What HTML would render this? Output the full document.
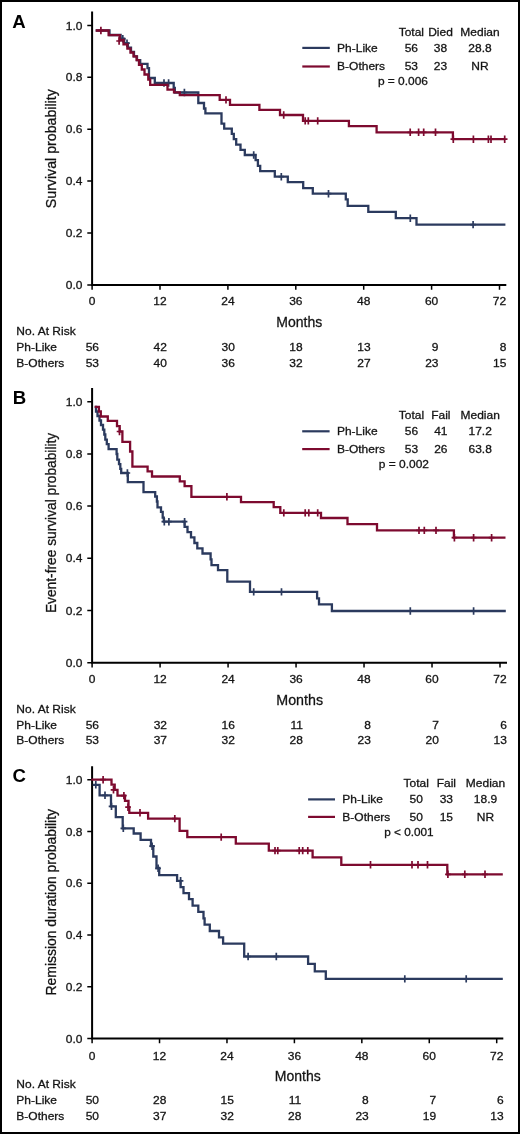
<!DOCTYPE html>
<html><head><meta charset="utf-8"><title>Kaplan-Meier curves</title>
<style>html,body{margin:0;padding:0;background:#fff;}svg{display:block;will-change:transform;}text{font-family:"Liberation Sans", sans-serif;stroke:#1a1a1a;stroke-width:0.3px;}.nb{stroke:none;}</style></head><body>
<svg width="520" height="1134" viewBox="0 0 520 1134">
<rect x="0" y="0" width="520" height="1134" fill="#000"/>
<rect x="2" y="2" width="516" height="1130" fill="#fff"/>
<g><text x="12.3" y="27.6" class="nb" font-size="18.6" font-weight="bold" fill="#000">A</text><path d="M92.1 11.5V285.9M91.1 284.9H506.3" stroke="#000" stroke-width="2" fill="none"/><path d="M87.3 284.9H92.1M87.3 233.0H92.1M87.3 181.1H92.1M87.3 129.2H92.1M87.3 77.3H92.1M87.3 25.4H92.1M92.1 284.9V289.7M160.0 284.9V289.7M227.9 284.9V289.7M295.8 284.9V289.7M363.7 284.9V289.7M431.6 284.9V289.7M499.5 284.9V289.7" stroke="#000" stroke-width="1.5" fill="none"/><text transform="translate(82.5 289.00) scale(1.0345 1)" font-size="11.6" text-anchor="end" fill="#111">0.0</text><text transform="translate(82.5 237.10) scale(1.0345 1)" font-size="11.6" text-anchor="end" fill="#111">0.2</text><text transform="translate(82.5 185.20) scale(1.0345 1)" font-size="11.6" text-anchor="end" fill="#111">0.4</text><text transform="translate(82.5 133.30) scale(1.0345 1)" font-size="11.6" text-anchor="end" fill="#111">0.6</text><text transform="translate(82.5 81.40) scale(1.0345 1)" font-size="11.6" text-anchor="end" fill="#111">0.8</text><text transform="translate(82.5 29.50) scale(1.0345 1)" font-size="11.6" text-anchor="end" fill="#111">1.0</text><text transform="translate(92.10 305.4) scale(1.0345 1)" font-size="11.6" text-anchor="middle" fill="#111">0</text><text transform="translate(160.00 305.4) scale(1.0345 1)" font-size="11.6" text-anchor="middle" fill="#111">12</text><text transform="translate(227.90 305.4) scale(1.0345 1)" font-size="11.6" text-anchor="middle" fill="#111">24</text><text transform="translate(295.80 305.4) scale(1.0345 1)" font-size="11.6" text-anchor="middle" fill="#111">36</text><text transform="translate(363.70 305.4) scale(1.0345 1)" font-size="11.6" text-anchor="middle" fill="#111">48</text><text transform="translate(431.60 305.4) scale(1.0345 1)" font-size="11.6" text-anchor="middle" fill="#111">60</text><text transform="translate(499.50 305.4) scale(1.0345 1)" font-size="11.6" text-anchor="middle" fill="#111">72</text><text x="276.29999999999995" y="326.5" font-size="15.2" textLength="46.00000000000002" lengthAdjust="spacingAndGlyphs" fill="#111">Months</text><text transform="translate(55.8 208.2) rotate(-90)" x="0" y="0" font-size="15.2" textLength="119.0" lengthAdjust="spacingAndGlyphs" fill="#111">Survival probability</text><text transform="translate(16.3 335.0) scale(1.0345 1)" font-size="11.6" fill="#111">No. At Risk</text><text transform="translate(16.3 350.8) scale(1.0345 1)" font-size="11.6" fill="#111">Ph-Like</text><text transform="translate(16.3 366.5) scale(1.0345 1)" font-size="11.6" fill="#111">B-Others</text><text transform="translate(99.00 350.8) scale(1.0345 1)" font-size="11.6" text-anchor="end" fill="#111">56</text><text transform="translate(99.00 366.5) scale(1.0345 1)" font-size="11.6" text-anchor="end" fill="#111">53</text><text transform="translate(166.90 350.8) scale(1.0345 1)" font-size="11.6" text-anchor="end" fill="#111">42</text><text transform="translate(166.90 366.5) scale(1.0345 1)" font-size="11.6" text-anchor="end" fill="#111">40</text><text transform="translate(234.80 350.8) scale(1.0345 1)" font-size="11.6" text-anchor="end" fill="#111">30</text><text transform="translate(234.80 366.5) scale(1.0345 1)" font-size="11.6" text-anchor="end" fill="#111">36</text><text transform="translate(302.70 350.8) scale(1.0345 1)" font-size="11.6" text-anchor="end" fill="#111">18</text><text transform="translate(302.70 366.5) scale(1.0345 1)" font-size="11.6" text-anchor="end" fill="#111">32</text><text transform="translate(370.60 350.8) scale(1.0345 1)" font-size="11.6" text-anchor="end" fill="#111">13</text><text transform="translate(370.60 366.5) scale(1.0345 1)" font-size="11.6" text-anchor="end" fill="#111">27</text><text transform="translate(438.50 350.8) scale(1.0345 1)" font-size="11.6" text-anchor="end" fill="#111">9</text><text transform="translate(438.50 366.5) scale(1.0345 1)" font-size="11.6" text-anchor="end" fill="#111">23</text><text transform="translate(506.40 350.8) scale(1.0345 1)" font-size="11.6" text-anchor="end" fill="#111">8</text><text transform="translate(506.40 366.5) scale(1.0345 1)" font-size="11.6" text-anchor="end" fill="#111">15</text><text transform="translate(411.3 35.5) scale(1.0345 1)" font-size="11.6" text-anchor="middle" fill="#111">Total</text><text transform="translate(440.5 35.5) scale(1.0345 1)" font-size="11.6" text-anchor="middle" fill="#111">Died</text><text transform="translate(480.0 35.5) scale(1.0345 1)" font-size="11.6" text-anchor="middle" fill="#111">Median</text><text transform="translate(411.3 52.2) scale(1.0345 1)" font-size="11.6" text-anchor="middle" fill="#111">56</text><text transform="translate(440.5 52.2) scale(1.0345 1)" font-size="11.6" text-anchor="middle" fill="#111">38</text><text transform="translate(480.0 52.2) scale(1.0345 1)" font-size="11.6" text-anchor="middle" fill="#111">28.8</text><text transform="translate(411.3 70.4) scale(1.0345 1)" font-size="11.6" text-anchor="middle" fill="#111">53</text><text transform="translate(440.5 70.4) scale(1.0345 1)" font-size="11.6" text-anchor="middle" fill="#111">23</text><text transform="translate(480.0 70.4) scale(1.0345 1)" font-size="11.6" text-anchor="middle" fill="#111">NR</text><path d="M302.3 47.9H329.8" stroke="#2b3a5e" stroke-width="2.2" fill="none"/><path d="M302.3 66.5H329.8" stroke="#7d0a2f" stroke-width="2.2" fill="none"/><text transform="translate(337.09999999999997 51.900000000000006) scale(1.0345 1)" font-size="11.6" fill="#111">Ph-Like</text><text transform="translate(337.09999999999997 70.30000000000001) scale(1.0345 1)" font-size="11.6" fill="#111">B-Others</text><text x="377.9" y="85.1" font-size="11.6" textLength="50.09999999999999" lengthAdjust="spacingAndGlyphs" fill="#111">p = 0.006</text><path d="M95.7 30.5H109.5V35H120.6V38.6H124.2V43.3H127.9V47.6H131V52H134V56.3H137V60.2H140.2V63.8H147.5V68.2H149V78H154.8V83H173.7V88H174.8V92.5H198.3V103H204V108.5H205.4V113.4H221.5V123.7H224.2V128.6H231.8V133.8H233.8V139.2H236.2V144.6H240.5V149.8H244.8V155H255.6V160.2H257.9V165.8H260.2V171.2H274.8V176.7H287.8V182.1H303.2V188.2H312.8V193.7H345.8V199.4H347.7V205.8H368.3V211.9H395.8V218.2H416.5V224.6H505.4" stroke="#2b3a5e" stroke-width="2.3" fill="none" stroke-linejoin="miter" stroke-linecap="butt"/><path d="M122.8 35.099999999999994V42.5M120.0 38.8H125.6M127 39.5V46.900000000000006M124.2 43.2H129.8M164 79.3V86.7M161.2 83H166.8M168.6 79.3V86.7M165.79999999999998 83H171.4M184.4 88.8V96.2M181.6 92.5H187.20000000000002M253.7 151.3V158.7M250.89999999999998 155H256.5M281.3 173.0V180.39999999999998M278.5 176.7H284.1M328.5 190.0V197.39999999999998M325.7 193.7H331.3M410.3 214.5V221.89999999999998M407.5 218.2H413.1M473.1 220.9V228.29999999999998M470.3 224.6H475.90000000000003" stroke="#2b3a5e" stroke-width="1.7" fill="none"/><path d="M95.7 30.5H108.6V35.1H119.7V39.8H123.5V44.4H127.4V48.6H130.5V52.5H133.5V56.3H136.6V60.2H139V64.9H141.8V69.5H144.5V74.5H148.3V79.5H150.2V84.9H167.5V89.6H174V92.3H179.8V95.2H219.7V99.9H230V104.8H259.4V109.9H280V115H303V120.9H348.9V126.2H376.6V132.3H452.9V139.2H504.7" stroke="#7d0a2f" stroke-width="2.3" fill="none" stroke-linejoin="miter" stroke-linecap="butt"/><path d="M100.9 26.8V34.2M98.10000000000001 30.5H103.7M119.1 37.3V44.7M116.3 41.0H121.89999999999999M226.0 96.2V103.60000000000001M223.2 99.9H228.8M283.7 111.3V118.7M280.9 115H286.5M305.2 117.2V124.60000000000001M302.4 120.9H308.0M308.3 117.2V124.60000000000001M305.5 120.9H311.1M317.7 117.2V124.60000000000001M314.9 120.9H320.5M410.2 128.60000000000002V136.0M407.4 132.3H413.0M418.6 128.60000000000002V136.0M415.8 132.3H421.40000000000003M423.7 128.60000000000002V136.0M420.9 132.3H426.5M435.5 128.60000000000002V136.0M432.7 132.3H438.3M453.3 135.5V142.89999999999998M450.5 139.2H456.1M473.4 135.5V142.89999999999998M470.59999999999997 139.2H476.2M488.4 135.5V142.89999999999998M485.59999999999997 139.2H491.2M491.0 135.5V142.89999999999998M488.2 139.2H493.8M504.7 135.5V142.89999999999998M501.9 139.2H507.5" stroke="#7d0a2f" stroke-width="1.7" fill="none"/></g>
<g><text x="12.8" y="404.3" class="nb" font-size="18.6" font-weight="bold" fill="#000">B</text><path d="M92.1 388.1V663.7M91.1 662.7H507.0" stroke="#000" stroke-width="2" fill="none"/><path d="M87.3 662.7H92.1M87.3 610.5H92.1M87.3 558.3H92.1M87.3 506.1H92.1M87.3 453.9H92.1M87.3 401.7H92.1M92.1 662.7V667.5M160.08 662.7V667.5M228.07 662.7V667.5M296.05 662.7V667.5M364.03 662.7V667.5M432.02 662.7V667.5M500.0 662.7V667.5" stroke="#000" stroke-width="1.5" fill="none"/><text transform="translate(82.5 666.80) scale(1.0345 1)" font-size="11.6" text-anchor="end" fill="#111">0.0</text><text transform="translate(82.5 614.60) scale(1.0345 1)" font-size="11.6" text-anchor="end" fill="#111">0.2</text><text transform="translate(82.5 562.40) scale(1.0345 1)" font-size="11.6" text-anchor="end" fill="#111">0.4</text><text transform="translate(82.5 510.20) scale(1.0345 1)" font-size="11.6" text-anchor="end" fill="#111">0.6</text><text transform="translate(82.5 458.00) scale(1.0345 1)" font-size="11.6" text-anchor="end" fill="#111">0.8</text><text transform="translate(82.5 405.80) scale(1.0345 1)" font-size="11.6" text-anchor="end" fill="#111">1.0</text><text transform="translate(92.10 683.3) scale(1.0345 1)" font-size="11.6" text-anchor="middle" fill="#111">0</text><text transform="translate(160.08 683.3) scale(1.0345 1)" font-size="11.6" text-anchor="middle" fill="#111">12</text><text transform="translate(228.07 683.3) scale(1.0345 1)" font-size="11.6" text-anchor="middle" fill="#111">24</text><text transform="translate(296.05 683.3) scale(1.0345 1)" font-size="11.6" text-anchor="middle" fill="#111">36</text><text transform="translate(364.03 683.3) scale(1.0345 1)" font-size="11.6" text-anchor="middle" fill="#111">48</text><text transform="translate(432.02 683.3) scale(1.0345 1)" font-size="11.6" text-anchor="middle" fill="#111">60</text><text transform="translate(500.00 683.3) scale(1.0345 1)" font-size="11.6" text-anchor="middle" fill="#111">72</text><text x="276.29999999999995" y="704.7" font-size="15.2" textLength="46.80000000000003" lengthAdjust="spacingAndGlyphs" fill="#111">Months</text><text transform="translate(55.8 613.1) rotate(-90)" x="0" y="0" font-size="15.2" textLength="180.3" lengthAdjust="spacingAndGlyphs" fill="#111">Event-free survival probability</text><text transform="translate(16.3 712.5) scale(1.0345 1)" font-size="11.6" fill="#111">No. At Risk</text><text transform="translate(16.3 728.5) scale(1.0345 1)" font-size="11.6" fill="#111">Ph-Like</text><text transform="translate(16.3 744.2) scale(1.0345 1)" font-size="11.6" fill="#111">B-Others</text><text transform="translate(99.00 728.5) scale(1.0345 1)" font-size="11.6" text-anchor="end" fill="#111">56</text><text transform="translate(99.00 744.2) scale(1.0345 1)" font-size="11.6" text-anchor="end" fill="#111">53</text><text transform="translate(166.98 728.5) scale(1.0345 1)" font-size="11.6" text-anchor="end" fill="#111">32</text><text transform="translate(166.98 744.2) scale(1.0345 1)" font-size="11.6" text-anchor="end" fill="#111">37</text><text transform="translate(234.97 728.5) scale(1.0345 1)" font-size="11.6" text-anchor="end" fill="#111">16</text><text transform="translate(234.97 744.2) scale(1.0345 1)" font-size="11.6" text-anchor="end" fill="#111">32</text><text transform="translate(302.95 728.5) scale(1.0345 1)" font-size="11.6" text-anchor="end" fill="#111">11</text><text transform="translate(302.95 744.2) scale(1.0345 1)" font-size="11.6" text-anchor="end" fill="#111">28</text><text transform="translate(370.93 728.5) scale(1.0345 1)" font-size="11.6" text-anchor="end" fill="#111">8</text><text transform="translate(370.93 744.2) scale(1.0345 1)" font-size="11.6" text-anchor="end" fill="#111">23</text><text transform="translate(438.92 728.5) scale(1.0345 1)" font-size="11.6" text-anchor="end" fill="#111">7</text><text transform="translate(438.92 744.2) scale(1.0345 1)" font-size="11.6" text-anchor="end" fill="#111">20</text><text transform="translate(506.90 728.5) scale(1.0345 1)" font-size="11.6" text-anchor="end" fill="#111">6</text><text transform="translate(506.90 744.2) scale(1.0345 1)" font-size="11.6" text-anchor="end" fill="#111">13</text><text transform="translate(411.4 418.5) scale(1.0345 1)" font-size="11.6" text-anchor="middle" fill="#111">Total</text><text transform="translate(440.8 418.5) scale(1.0345 1)" font-size="11.6" text-anchor="middle" fill="#111">Fail</text><text transform="translate(480.2 418.5) scale(1.0345 1)" font-size="11.6" text-anchor="middle" fill="#111">Median</text><text transform="translate(411.4 435.0) scale(1.0345 1)" font-size="11.6" text-anchor="middle" fill="#111">56</text><text transform="translate(440.8 435.0) scale(1.0345 1)" font-size="11.6" text-anchor="middle" fill="#111">41</text><text transform="translate(480.2 435.0) scale(1.0345 1)" font-size="11.6" text-anchor="middle" fill="#111">17.2</text><text transform="translate(411.4 453.4) scale(1.0345 1)" font-size="11.6" text-anchor="middle" fill="#111">53</text><text transform="translate(440.8 453.4) scale(1.0345 1)" font-size="11.6" text-anchor="middle" fill="#111">26</text><text transform="translate(480.2 453.4) scale(1.0345 1)" font-size="11.6" text-anchor="middle" fill="#111">63.8</text><path d="M302.2 431.3H329.6" stroke="#2b3a5e" stroke-width="2.2" fill="none"/><path d="M302.2 449.1H329.6" stroke="#7d0a2f" stroke-width="2.2" fill="none"/><text transform="translate(336.9 434.7) scale(1.0345 1)" font-size="11.6" fill="#111">Ph-Like</text><text transform="translate(336.9 453.29999999999995) scale(1.0345 1)" font-size="11.6" fill="#111">B-Others</text><text x="378.79999999999995" y="468.4" font-size="11.6" textLength="50.20000000000001" lengthAdjust="spacingAndGlyphs" fill="#111">p = 0.002</text><path d="M94.7 407H96V411.5H97.5V416H99.5V420.5H101V425H103V429.6H104.3V434.5H105.3V439.6H106.8V444.2H108.6V449.2H116.6V454H117.3V459.6H119V464.2H120.3V468.8H121.2V473H127.8V482.2H143.5V492.2H155.2V496.5H156.9V501.5H157.5V507.3H161V511.9H162.7V517.7H163.8V521.7H184.6V526.9H187.5V532.1H191V537.3H194.4V543H197.3V548.3H202.5V553.5H210.6V559.3H211.5V565.2H218V570.2H227.3V581.7H250V591.9H317.1V598.3H319V604.4H331.9V611H505.8" stroke="#2b3a5e" stroke-width="2.3" fill="none" stroke-linejoin="miter" stroke-linecap="butt"/><path d="M127.4 469.3V476.7M124.60000000000001 473H130.20000000000002M164.3 518.0V525.4000000000001M161.5 521.7H167.10000000000002M168.9 518.0V525.4000000000001M166.1 521.7H171.70000000000002M184.6 518.0V525.4000000000001M181.79999999999998 521.7H187.4M253.7 588.1999999999999V595.6M250.89999999999998 591.9H256.5M281.5 588.1999999999999V595.6M278.7 591.9H284.3M410.3 607.3V614.7M407.5 611H413.1M473.6 607.3V614.7M470.8 611H476.40000000000003" stroke="#2b3a5e" stroke-width="1.7" fill="none"/><path d="M94.7 406.9H98.9V411.5H100.8V416.5H107.8V420.8H117V426.2H119.7V431.5H122.4V441.8H130.1V451.5H132.4V466.7H147.6V471.3H152V476.5H179.8V481.3H184.6V486.2H191.4V496.8H241V502.2H273.7V507.1H280.3V512.9H321V518H347.5V524.1H377V530.4H453.9V537.7H505.5" stroke="#7d0a2f" stroke-width="2.3" fill="none" stroke-linejoin="miter" stroke-linecap="butt"/><path d="M119.5 427.8V435.2M116.7 431.5H122.3M226.9 493.1V500.5M224.1 496.8H229.70000000000002M283.8 509.2V516.6M281.0 512.9H286.6M305.2 509.2V516.6M302.4 512.9H308.0M308.8 509.2V516.6M306.0 512.9H311.6M317.7 509.2V516.6M314.9 512.9H320.5M419.0 526.6999999999999V534.1M416.2 530.4H421.8M424.3 526.6999999999999V534.1M421.5 530.4H427.1M436.0 526.6999999999999V534.1M433.2 530.4H438.8M454.4 534.0V541.4000000000001M451.59999999999997 537.7H457.2M473.6 534.0V541.4000000000001M470.8 537.7H476.40000000000003M491.6 534.0V541.4000000000001M488.8 537.7H494.40000000000003" stroke="#7d0a2f" stroke-width="1.7" fill="none"/></g>
<g><text x="12.6" y="782.4" class="nb" font-size="18.6" font-weight="bold" fill="#000">C</text><path d="M92.1 766.3V1039.5M91.1 1038.5H503.3" stroke="#000" stroke-width="2" fill="none"/><path d="M87.3 1038.5H92.1M87.3 986.76H92.1M87.3 935.02H92.1M87.3 883.28H92.1M87.3 831.54H92.1M87.3 779.8H92.1M92.1 1038.5V1043.3M159.53 1038.5V1043.3M226.97 1038.5V1043.3M294.4 1038.5V1043.3M361.83 1038.5V1043.3M429.27 1038.5V1043.3M496.7 1038.5V1043.3" stroke="#000" stroke-width="1.5" fill="none"/><text transform="translate(82.5 1042.60) scale(1.0345 1)" font-size="11.6" text-anchor="end" fill="#111">0.0</text><text transform="translate(82.5 990.86) scale(1.0345 1)" font-size="11.6" text-anchor="end" fill="#111">0.2</text><text transform="translate(82.5 939.12) scale(1.0345 1)" font-size="11.6" text-anchor="end" fill="#111">0.4</text><text transform="translate(82.5 887.38) scale(1.0345 1)" font-size="11.6" text-anchor="end" fill="#111">0.6</text><text transform="translate(82.5 835.64) scale(1.0345 1)" font-size="11.6" text-anchor="end" fill="#111">0.8</text><text transform="translate(82.5 783.90) scale(1.0345 1)" font-size="11.6" text-anchor="end" fill="#111">1.0</text><text transform="translate(92.10 1059.6) scale(1.0345 1)" font-size="11.6" text-anchor="middle" fill="#111">0</text><text transform="translate(159.53 1059.6) scale(1.0345 1)" font-size="11.6" text-anchor="middle" fill="#111">12</text><text transform="translate(226.97 1059.6) scale(1.0345 1)" font-size="11.6" text-anchor="middle" fill="#111">24</text><text transform="translate(294.40 1059.6) scale(1.0345 1)" font-size="11.6" text-anchor="middle" fill="#111">36</text><text transform="translate(361.83 1059.6) scale(1.0345 1)" font-size="11.6" text-anchor="middle" fill="#111">48</text><text transform="translate(429.27 1059.6) scale(1.0345 1)" font-size="11.6" text-anchor="middle" fill="#111">60</text><text transform="translate(496.70 1059.6) scale(1.0345 1)" font-size="11.6" text-anchor="middle" fill="#111">72</text><text x="274.79999999999995" y="1080.8" font-size="15.2" textLength="46.00000000000002" lengthAdjust="spacingAndGlyphs" fill="#111">Months</text><text transform="translate(55.8 995.5) rotate(-90)" x="0" y="0" font-size="15.2" textLength="186.49999999999994" lengthAdjust="spacingAndGlyphs" fill="#111">Remission duration probability</text><text transform="translate(16.3 1088.1) scale(1.0345 1)" font-size="11.6" fill="#111">No. At Risk</text><text transform="translate(16.3 1104.0) scale(1.0345 1)" font-size="11.6" fill="#111">Ph-Like</text><text transform="translate(16.3 1119.8) scale(1.0345 1)" font-size="11.6" fill="#111">B-Others</text><text transform="translate(99.00 1104.0) scale(1.0345 1)" font-size="11.6" text-anchor="end" fill="#111">50</text><text transform="translate(99.00 1119.8) scale(1.0345 1)" font-size="11.6" text-anchor="end" fill="#111">50</text><text transform="translate(166.43 1104.0) scale(1.0345 1)" font-size="11.6" text-anchor="end" fill="#111">28</text><text transform="translate(166.43 1119.8) scale(1.0345 1)" font-size="11.6" text-anchor="end" fill="#111">37</text><text transform="translate(233.87 1104.0) scale(1.0345 1)" font-size="11.6" text-anchor="end" fill="#111">15</text><text transform="translate(233.87 1119.8) scale(1.0345 1)" font-size="11.6" text-anchor="end" fill="#111">32</text><text transform="translate(301.30 1104.0) scale(1.0345 1)" font-size="11.6" text-anchor="end" fill="#111">11</text><text transform="translate(301.30 1119.8) scale(1.0345 1)" font-size="11.6" text-anchor="end" fill="#111">28</text><text transform="translate(368.73 1104.0) scale(1.0345 1)" font-size="11.6" text-anchor="end" fill="#111">8</text><text transform="translate(368.73 1119.8) scale(1.0345 1)" font-size="11.6" text-anchor="end" fill="#111">23</text><text transform="translate(436.17 1104.0) scale(1.0345 1)" font-size="11.6" text-anchor="end" fill="#111">7</text><text transform="translate(436.17 1119.8) scale(1.0345 1)" font-size="11.6" text-anchor="end" fill="#111">19</text><text transform="translate(503.60 1104.0) scale(1.0345 1)" font-size="11.6" text-anchor="end" fill="#111">6</text><text transform="translate(503.60 1119.8) scale(1.0345 1)" font-size="11.6" text-anchor="end" fill="#111">13</text><text transform="translate(416.2 786.5) scale(1.0345 1)" font-size="11.6" text-anchor="middle" fill="#111">Total</text><text transform="translate(446.3 786.5) scale(1.0345 1)" font-size="11.6" text-anchor="middle" fill="#111">Fail</text><text transform="translate(485.5 786.5) scale(1.0345 1)" font-size="11.6" text-anchor="middle" fill="#111">Median</text><text transform="translate(416.2 803.1) scale(1.0345 1)" font-size="11.6" text-anchor="middle" fill="#111">50</text><text transform="translate(446.3 803.1) scale(1.0345 1)" font-size="11.6" text-anchor="middle" fill="#111">33</text><text transform="translate(485.5 803.1) scale(1.0345 1)" font-size="11.6" text-anchor="middle" fill="#111">18.9</text><text transform="translate(416.2 821.1) scale(1.0345 1)" font-size="11.6" text-anchor="middle" fill="#111">50</text><text transform="translate(446.3 821.1) scale(1.0345 1)" font-size="11.6" text-anchor="middle" fill="#111">15</text><text transform="translate(485.5 821.1) scale(1.0345 1)" font-size="11.6" text-anchor="middle" fill="#111">NR</text><path d="M308.1 799.4H335.0" stroke="#2b3a5e" stroke-width="2.2" fill="none"/><path d="M308.1 816.9H335.0" stroke="#7d0a2f" stroke-width="2.2" fill="none"/><text transform="translate(342.3 802.8000000000001) scale(1.0345 1)" font-size="11.6" fill="#111">Ph-Like</text><text transform="translate(342.3 821.0) scale(1.0345 1)" font-size="11.6" fill="#111">B-Others</text><text x="384.2" y="835.7" font-size="11.6" textLength="49.4" lengthAdjust="spacingAndGlyphs" fill="#111">p &lt; 0.001</text><path d="M92.7 784.8H99.6V795.3H111V806.4H115.8V817.2H122.7V828.3H133.7V833.5H140.6V839.8H151V846.2H153.3V856.5H156.5V868H159.2V875.2H177.1V880.8H180.6V887.1H183.5V893.2H189V899.2H192.6V905.6H198.3V911.9H203.5V918.3H204.6V924.6H209.8V931H219V937.3H223.1V943.7H244.2V956.5H308.1V963.8H314.8V971.4H325.8V978.9H502.8" stroke="#2b3a5e" stroke-width="2.3" fill="none" stroke-linejoin="miter" stroke-linecap="butt"/><path d="M95.8 781.0999999999999V788.5M93.0 784.8H98.6M105.0 791.5999999999999V799.0M102.2 795.3H107.8M111.5 802.6999999999999V810.1M108.7 806.4H114.3M123.3 824.5999999999999V832.0M120.5 828.3H126.1M152.1 842.5V849.9000000000001M149.29999999999998 846.2H154.9M158.1 864.5999999999999V872.0M155.29999999999998 868.3H160.9M180.6 877.0999999999999V884.5M177.79999999999998 880.8H183.4M248.1 952.8V960.2M245.29999999999998 956.5H250.9M276.3 952.8V960.2M273.5 956.5H279.1M404.8 975.1999999999999V982.6M402.0 978.9H407.6M466.2 975.1999999999999V982.6M463.4 978.9H469.0" stroke="#2b3a5e" stroke-width="1.7" fill="none"/><path d="M91.2 779.7H111.5V784.7H114.7V789.8H117.5V795.6H125V800.8H128.5V807.2H129.3V812.8H148.1V818.6H179.6V830.8H187.3V837.1H235.8V843.6H268.8V850.6H312.6V857.3H341.3V864.8H447.3V874.3H502.8" stroke="#7d0a2f" stroke-width="2.3" fill="none" stroke-linejoin="miter" stroke-linecap="butt"/><path d="M103.1 776.0V783.4000000000001M100.3 779.7H105.89999999999999M113.5 786.0999999999999V793.5M110.7 789.8H116.3M123.9 791.9V799.3000000000001M121.10000000000001 795.6H126.7M128.0 803.5V810.9000000000001M125.2 807.2H130.8M140.0 809.0999999999999V816.5M137.2 812.8H142.8M174.8 814.9V822.3000000000001M172.0 818.6H177.60000000000002M221.2 833.4V840.8000000000001M218.39999999999998 837.1H224.0M275.0 846.9V854.3000000000001M272.2 850.6H277.8M277.8 846.9V854.3000000000001M275.0 850.6H280.6M299.2 846.9V854.3000000000001M296.4 850.6H302.0M302.7 846.9V854.3000000000001M299.9 850.6H305.5M307.8 846.9V854.3000000000001M305.0 850.6H310.6M370.5 861.0999999999999V868.5M367.7 864.8H373.3M412.0 861.0999999999999V868.5M409.2 864.8H414.8M418.0 861.0999999999999V868.5M415.2 864.8H420.8M427.5 861.0999999999999V868.5M424.7 864.8H430.3M447.9 870.5999999999999V878.0M445.09999999999997 874.3H450.7M464.8 870.5999999999999V878.0M462.0 874.3H467.6M485.0 870.5999999999999V878.0M482.2 874.3H487.8" stroke="#7d0a2f" stroke-width="1.7" fill="none"/></g>
</svg></body></html>
